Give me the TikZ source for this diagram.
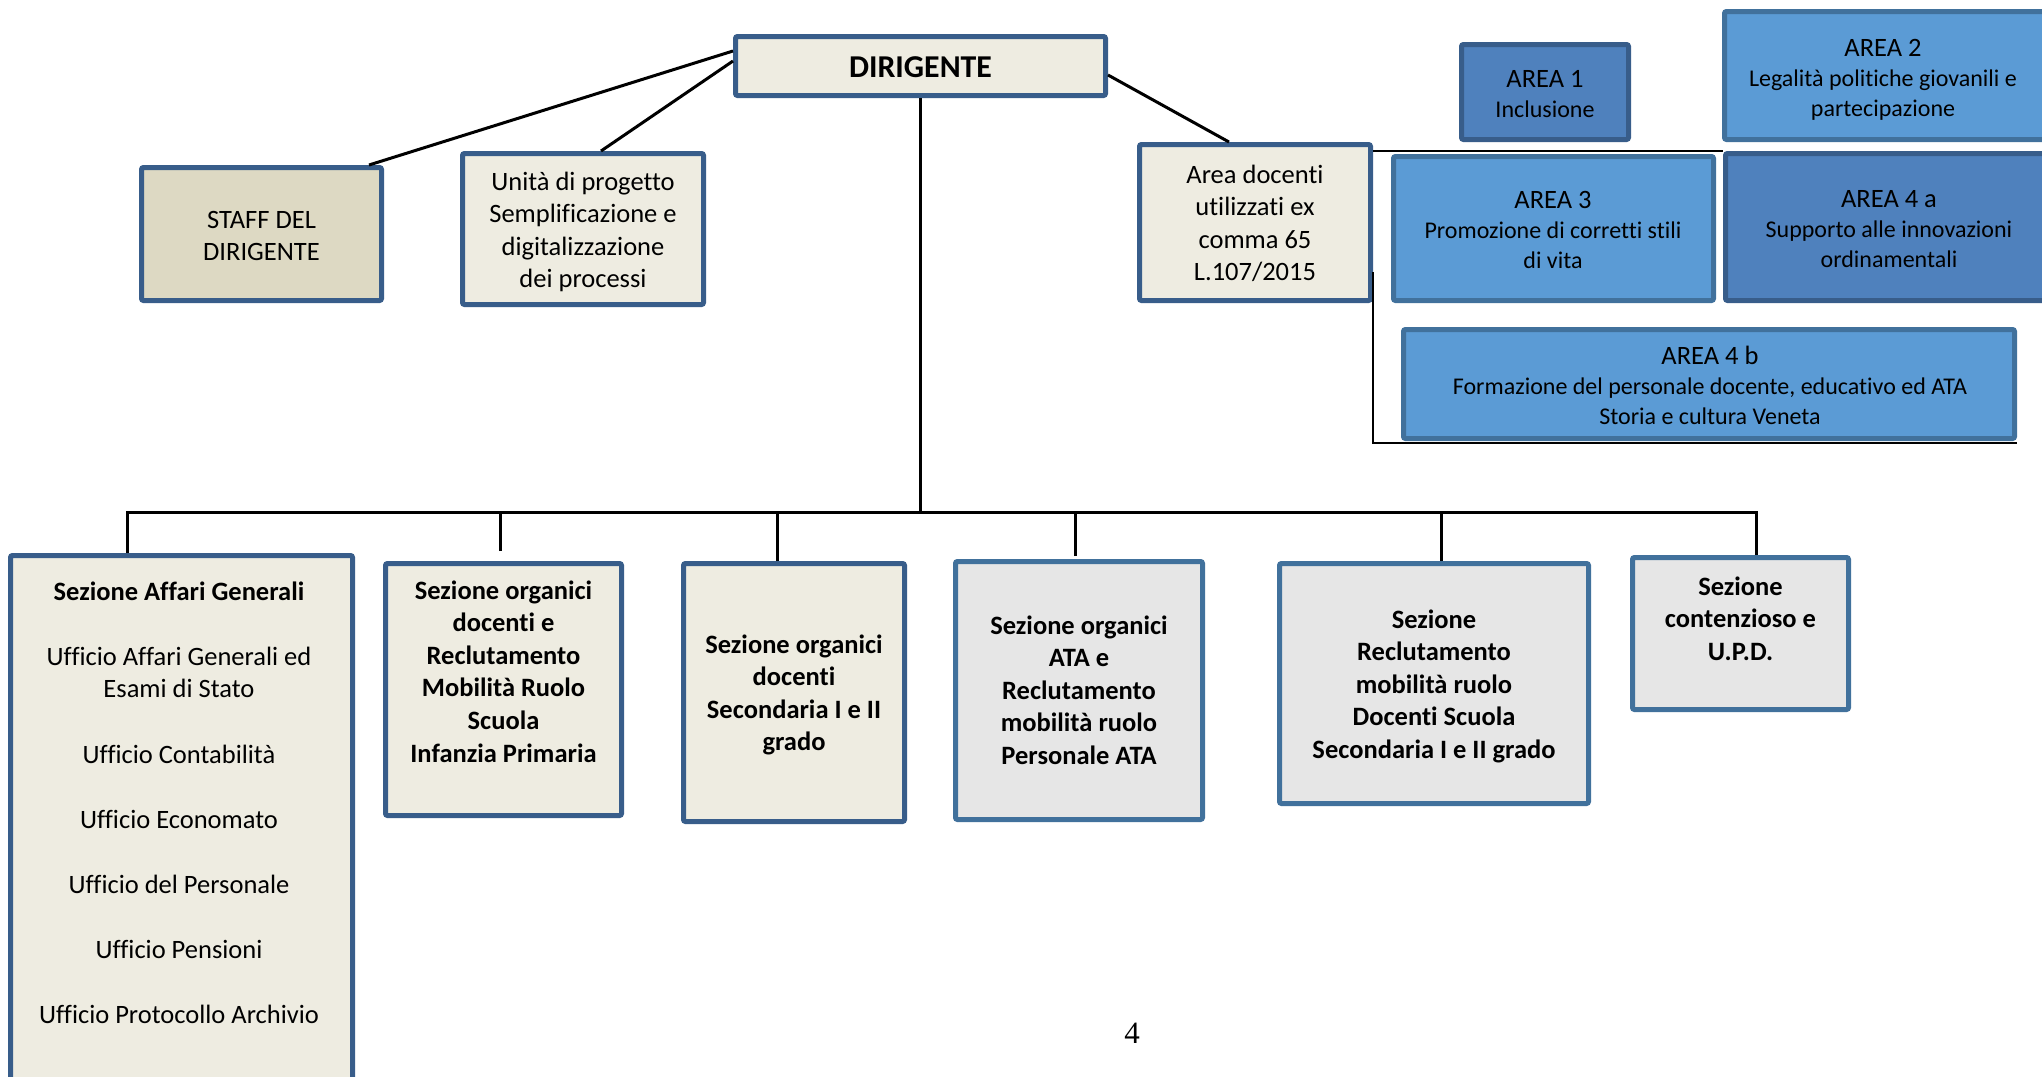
\documentclass[tikz,border=0pt]{standalone}
\usepackage{fontspec}
\setmainfont{Carlito}[Ligatures={NoCommon}]
\newfontfamily\numfont{Liberation Serif}
\usetikzlibrary{fit,calc}
\definecolor{bordA}{HTML}{385D8A}
\definecolor{bordB}{HTML}{41719C}
\definecolor{beige}{HTML}{EEECE1}
\definecolor{tanfill}{HTML}{DDD9C3}
\definecolor{grayfill}{HTML}{E6E6E6}
\definecolor{blueD}{HTML}{4F81BD}
\definecolor{blueL}{HTML}{5B9BD5}
\newcommand{\descr}{\fontsize{12}{15}\selectfont}
\begin{document}
\begin{tikzpicture}[x=0.5pt,y=-0.5pt,
  box/.style={draw=bordA, line width=2.5pt, rounded corners=1pt, inner sep=0pt},
  bbox/.style={box, draw=bordB},
  txt/.style={inner sep=0pt, anchor=base, align=flush center, text width=320pt,
    font=\fontsize{13.25}{16.3}\selectfont},
  btxt/.style={txt, font=\fontsize{13.25}{15}\selectfont},
  bold/.style={txt, font=\fontsize{13.25}{16.3}\selectfont\bfseries},
  conn/.style={draw=black, line width=1.5pt},
  thinconn/.style={draw=black, line width=1pt}]
\path[use as bounding box, fill=white] (0,0) rectangle (2042,1077);
\clip (0,0) rectangle (2042,1077);

% top level
\node[box, fill=beige, fit={(735.5,36.5) (1105.5,95.5)}] (dir) {};
\node[txt, font=\fontsize{15.9}{19}\selectfont\bfseries] (dirT) at (920.5,77) {DIRIGENTE};

\node[box, fill=tanfill, fit={(141.5,167.5) (381.5,300.5)}] (staff) {};
\node[txt] (staffT) at (261.5,228) {STAFF DEL\\DIRIGENTE};

\node[box, fill=beige, fit={(462.5,153.5) (703.5,304.5)}] (unita) {};
\node[txt] (unitaT) at (583,190) {Unità di progetto\\Semplificazione e\\digitalizzazione\\dei processi};

\node[box, fill=beige, fit={(1139.5,144.5) (1370.5,300.5)}] (adoc) {};
\node[txt] (adocT) at (1255,183) {Area docenti\\utilizzati ex\\comma 65\\L.107/2015};

% areas
\node[box, fill=blueD, fit={(1461.5,44.5) (1628.5,139.5)}] (a1) {};
\node[btxt] (a1T) at (1545,87) {AREA 1\\{\descr Inclusione}};

\node[bbox, fill=blueL, fit={(1724.5,11.5) (2070,139.5)}] (a2) {};
\node[btxt] (a2T) at (1883,56) {AREA 2\\{\descr Legalità politiche giovanili e}\\{\descr partecipazione}};

\node[bbox, fill=blueL, fit={(1393.5,156.5) (1713.5,300.5)}] (a3) {};
\node[btxt] (a3T) at (1553,208) {AREA 3\\{\descr Promozione di corretti stili}\\{\descr di vita}};

\node[box, fill=blueD, fit={(1725.5,153.5) (2070,300.5)}] (a4a) {};
\node[btxt] (a4aT) at (1889,207) {AREA 4 a\\{\descr Supporto alle innovazioni}\\{\descr ordinamentali}};

\node[bbox, fill=blueL, fit={(1403.5,329.5) (2014.5,438.5)}] (a4b) {};
\node[btxt] (a4bT) at (1710,364) {AREA 4 b\\{\descr Formazione del personale docente, educativo ed ATA}\\{\descr Storia e cultura Veneta}};

% sections
\node[box, fill=beige, fit={(10.5,555.5) (352.5,1110)}] (affari) {};
\node[txt] (affariT) at (179,600) {{\bfseries Sezione Affari Generali}\\[16.3pt]
  Ufficio Affari Generali ed\\Esami di Stato\\[16.3pt]
  Ufficio Contabilità\\[16.3pt]
  Ufficio Economato\\[16.3pt]
  Ufficio del Personale\\[16.3pt]
  Ufficio Pensioni\\[16.3pt]
  Ufficio Protocollo Archivio};

\node[box, fill=beige, fit={(385.5,563.5) (621.5,815.5)}] (infanzia) {};
\node[bold] (infanziaT) at (503.5,599) {Sezione organici\\docenti e\\Reclutamento\\Mobilità Ruolo\\Scuola\\Infanzia Primaria};

\node[box, fill=beige, fit={(683.5,563.5) (904.5,821.5)}] (secondaria) {};
\node[bold] (secondariaT) at (794,653) {Sezione organici\\docenti\\Secondaria I e II\\grado};

\node[bbox, fill=grayfill, fit={(955.5,561.5) (1202.5,819.5)}] (ata) {};
\node[bold] (ataT) at (1079,634) {Sezione organici\\ATA e\\Reclutamento\\mobilità ruolo\\Personale ATA};

\node[bbox, fill=grayfill, fit={(1279.5,563.5) (1588.5,803.5)}] (recl) {};
\node[bold] (reclT) at (1434,628) {Sezione\\Reclutamento\\mobilità ruolo\\Docenti Scuola\\Secondaria I e II grado};

\node[bbox, fill=grayfill, fit={(1632.5,557.5) (1848.5,709.5)}] (cont) {};
\node[bold] (contT) at (1740.5,595) {Sezione\\contenzioso e\\U.P.D.};

\node[inner sep=0pt, anchor=base, font=\numfont\fontsize{15.5}{18}\selectfont] (pg) at (1132,1043) {4};

% connectors
\coordinate (bus) at (920.5,512);
\draw[conn] ($(dir.west)+(0,-15)$) -- ($(staff.north)+(107.5,0)$);
\draw[conn] ($(dir.west)+(0,-5)$) -- ($(unita.north)+(18,0)$);
\draw[conn] ($(dir.east)+(0,9)$) -- ($(adoc.north)+(-26,0)$);
\draw[conn] (dir.south) -- (bus);
\draw[conn] ($(affari.north)+(-54.5,0)$) |- (bus) -| ($(cont.north)+(15.5,0)$);
\draw[conn] ($(infanzia.north)+(-3.5,-10)$) |- (bus);
\draw[conn] ($(secondaria.north)+(-16.5,0)$) |- (bus);
\draw[conn] ($(ata.north)+(-4,-3)$) |- (bus);
\draw[conn] ($(recl.north)+(7,0)$) |- (bus);
\draw[thinconn] (adoc.north east |- a4a.north west) -- (a4a.north west);
\draw[thinconn] ($(adoc.east)+(0,49.5)$) |- ($(a4b.south east)+(0,2)$);
\end{tikzpicture}
\end{document}
